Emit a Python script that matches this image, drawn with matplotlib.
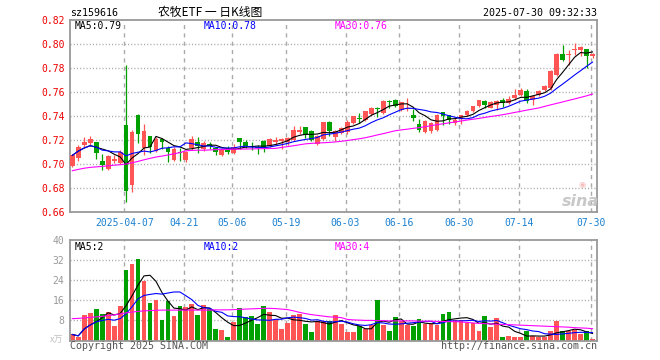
import numpy as np
import pandas as pd
import matplotlib
matplotlib.use('Agg')
import matplotlib.pyplot as plt

# daily K data, 2025-03-24 .. 2025-07-30
opens = [0.6986, 0.7047, 0.7156, 0.7172, 0.7186, 0.7028, 0.6956, 0.7028, 0.7008, 0.7328,
         0.6822, 0.7411, 0.7133, 0.7231, 0.7106, 0.7208, 0.7134, 0.7036, 0.7101, 0.7030,
         0.7134, 0.7184, 0.7121, 0.7170, 0.7134, 0.7071, 0.7120, 0.7088, 0.7216, 0.7186,
         0.7153, 0.7142, 0.7194, 0.7153, 0.7180, 0.7189, 0.7180, 0.7203, 0.7269, 0.7306,
         0.7272, 0.7169, 0.7208, 0.7347, 0.7222, 0.7261, 0.7264, 0.7342, 0.7383, 0.7364,
         0.7420, 0.7470, 0.7425, 0.7525, 0.7531, 0.7447, 0.7458, 0.7411, 0.7333, 0.7269,
         0.7275, 0.7286, 0.7436, 0.7406, 0.7342, 0.7375, 0.7411, 0.7439, 0.7480, 0.7528,
         0.7470, 0.7494, 0.7536, 0.7508, 0.7550, 0.7572, 0.7606, 0.7536, 0.7572, 0.7619,
         0.7633, 0.7744, 0.7919, 0.7911, 0.7947, 0.7953, 0.7961, 0.7903]
highs = [0.7083, 0.7156, 0.7225, 0.7233, 0.7186, 0.7086, 0.7078, 0.7075, 0.7120, 0.7822,
         0.7286, 0.7419, 0.7336, 0.7236, 0.7222, 0.7216, 0.7148, 0.7140, 0.7134, 0.7107,
         0.7230, 0.7222, 0.7192, 0.7181, 0.7134, 0.7126, 0.7148, 0.7167, 0.7216, 0.7197,
         0.7180, 0.7161, 0.7203, 0.7217, 0.7225, 0.7214, 0.7225, 0.7314, 0.7319, 0.7306,
         0.7281, 0.7244, 0.7353, 0.7358, 0.7281, 0.7311, 0.7364, 0.7400, 0.7425, 0.7445,
         0.7478, 0.7475, 0.7530, 0.7530, 0.7544, 0.7519, 0.7550, 0.7461, 0.7375, 0.7369,
         0.7353, 0.7420, 0.7436, 0.7410, 0.7383, 0.7411, 0.7453, 0.7486, 0.7536, 0.7536,
         0.7525, 0.7536, 0.7550, 0.7569, 0.7625, 0.7633, 0.7628, 0.7578, 0.7619, 0.7661,
         0.7786, 0.7928, 0.7994, 0.7953, 0.8008, 0.7986, 0.7961, 0.7925]
lows = [0.6975, 0.7022, 0.7139, 0.7153, 0.7044, 0.6947, 0.6947, 0.7011, 0.7003, 0.6683,
        0.6767, 0.7175, 0.7072, 0.7092, 0.7097, 0.7121, 0.7016, 0.7025, 0.7025, 0.7019,
        0.7120, 0.7093, 0.7107, 0.7121, 0.7071, 0.7066, 0.7080, 0.7080, 0.7126, 0.7134,
        0.7114, 0.7086, 0.7097, 0.7142, 0.7169, 0.7125, 0.7161, 0.7189, 0.7253, 0.7217,
        0.7189, 0.7161, 0.7203, 0.7230, 0.7189, 0.7250, 0.7253, 0.7336, 0.7342, 0.7356,
        0.7411, 0.7395, 0.7419, 0.7470, 0.7478, 0.7439, 0.7444, 0.7356, 0.7267, 0.7258,
        0.7258, 0.7278, 0.7328, 0.7333, 0.7328, 0.7333, 0.7403, 0.7431, 0.7472, 0.7467,
        0.7465, 0.7453, 0.7478, 0.7503, 0.7533, 0.7564, 0.7508, 0.7489, 0.7567, 0.7606,
        0.7619, 0.7736, 0.7856, 0.7828, 0.7911, 0.7897, 0.7800, 0.7881]
closes = [0.7072, 0.7142, 0.7186, 0.7211, 0.7092, 0.6992, 0.7069, 0.7044, 0.7100, 0.6772,
          0.7269, 0.7247, 0.7278, 0.7144, 0.7211, 0.7181, 0.7101, 0.7129, 0.7093, 0.7104,
          0.7211, 0.7148, 0.7175, 0.7148, 0.7099, 0.7120, 0.7104, 0.7140, 0.7186, 0.7153,
          0.7139, 0.7131, 0.7133, 0.7211, 0.7197, 0.7208, 0.7219, 0.7281, 0.7286, 0.7244,
          0.7203, 0.7236, 0.7347, 0.7272, 0.7272, 0.7297, 0.7347, 0.7397, 0.7375, 0.7439,
          0.7470, 0.7460, 0.7522, 0.7520, 0.7486, 0.7514, 0.7467, 0.7383, 0.7286, 0.7361,
          0.7342, 0.7411, 0.7397, 0.7369, 0.7369, 0.7406, 0.7444, 0.7480, 0.7530, 0.7489,
          0.7519, 0.7528, 0.7508, 0.7544, 0.7578, 0.7619, 0.7528, 0.7570, 0.7606, 0.7647,
          0.7778, 0.7919, 0.7869, 0.7919, 0.7961, 0.7975, 0.7897, 0.7919]
# volume in 万
volumes = [2.4, 1.3, 10.1, 10.9, 12.5, 10.5, 11.3, 5.6, 13.7, 28.2,
           30.3, 32.6, 23.8, 14.9, 16.1, 8.1, 15.7, 9.7, 13.7, 13.3,
           14.5, 10.1, 14.1, 12.5, 4.4, 4.2, 1.2, 7.2, 12.9, 9.3,
           9.7, 6.4, 13.7, 11.3, 8.5, 4.4, 6.8, 10.1, 10.5, 6.4,
           3.2, 7.7, 7.7, 7.8, 10.1, 6.4, 3.4, 3.4, 5.8, 4.4,
           6.3, 16.1, 6.0, 3.6, 9.3, 7.8, 6.0, 5.6, 8.5, 6.6,
           6.7, 6.3, 10.5, 11.3, 8.3, 8.3, 7.0, 7.0, 3.6, 9.7,
           5.2, 8.9, 1.2, 1.6, 1.2, 1.2, 3.6, 1.6, 1.2, 1.2,
           3.6, 7.7, 3.6, 3.6, 4.0, 2.4, 3.6, 0.4]
# MA30 (needs history before the window)
ma30_price = [0.6944, 0.6955, 0.6965, 0.6972, 0.6976, 0.6980, 0.6985, 0.6990, 0.6994, 0.7000,
              0.7010, 0.7022, 0.7035, 0.7047, 0.7058, 0.7066, 0.7075, 0.7085, 0.7095, 0.7110,
              0.7113, 0.7115, 0.7115, 0.7117, 0.7120, 0.7121, 0.7122, 0.7123, 0.7124, 0.7125,
              0.7126, 0.7127, 0.7128, 0.7129, 0.7130, 0.7138, 0.7145, 0.7152, 0.7160, 0.7168,
              0.7172, 0.7175, 0.7177, 0.7180, 0.7184, 0.7189, 0.7196, 0.7203, 0.7210, 0.7219,
              0.7230, 0.7242, 0.7253, 0.7265, 0.7277, 0.7284, 0.7290, 0.7297, 0.7303, 0.7311,
              0.7319, 0.7328, 0.7335, 0.7343, 0.7350, 0.7358, 0.7366, 0.7373, 0.7380, 0.7388,
              0.7396, 0.7403, 0.7411, 0.7420, 0.7430, 0.7439, 0.7449, 0.7458, 0.7467, 0.7480,
              0.7493, 0.7505, 0.7517, 0.7530, 0.7542, 0.7555, 0.7568, 0.7583]
ma30_vol = [8.7, 8.8, 9.0, 9.2, 9.4, 9.6, 9.9, 10.2, 10.6, 11.0,
            11.3, 11.6, 11.8, 11.9, 12.0, 12.1, 12.1, 12.1, 12.1, 12.1,
            12.1, 12.1, 12.1, 12.1, 12.2, 12.2, 12.2, 12.3, 12.4, 12.5,
            12.6, 12.7, 12.8, 12.8, 12.7, 12.5, 12.3, 11.8, 11.2, 10.7,
            10.3, 10.0, 9.7, 9.4, 9.3, 9.1, 8.4, 8.2, 8.1, 8.0,
            8.0, 7.9, 7.9, 7.8, 7.8, 7.8, 7.8, 7.8, 7.7, 7.7,
            7.7, 7.6, 7.6, 7.5, 7.5, 7.4, 7.2, 7.0, 6.8, 6.7,
            6.6, 6.5, 6.4, 6.3, 6.2, 6.1, 6.0, 5.9, 5.8, 5.7,
            5.6, 5.5, 5.4, 5.3, 5.1, 5.0, 4.9, 4.7]

tick_idx = [9, 19, 27, 36, 46, 55, 65, 75, 87]
tick_lbl = ['2025-04-07', '04-21', '05-06', '05-19', '06-03', '06-16', '06-30', '07-14', '07-30']

RED = '#ff5555'
GREEN = '#00a000'
GRID = '#aaaaaa'
MONO = 'DejaVu Sans Mono'
CJK = ['Noto Sans CJK SC', 'DejaVu Sans']

o = np.array(opens); h = np.array(highs); l = np.array(lows); c = np.array(closes)
v = np.array(volumes)
x = np.arange(len(c))
cols = np.where(c >= o, RED, GREEN)

ma5 = pd.Series(c).rolling(5, min_periods=1).mean()
ma10 = pd.Series(c).rolling(10, min_periods=1).mean()
vma5 = pd.Series(v).rolling(5, min_periods=1).mean()
vma10 = pd.Series(v).rolling(10, min_periods=1).mean()

W, H = 660, 360
fig = plt.figure(figsize=(6.6, 3.6), dpi=100)
ax1 = fig.add_axes([70/W, 1-212/H, 527/W, 192/H])
ax2 = fig.add_axes([70/W, 1-340.5/H, 527/W, 100.5/H])

def px(xp, yp):
    return xp / W, 1 - yp / H

for ax in (ax1, ax2):
    ax.set_xlim(-0.38, 87.75)
    for s in ax.spines.values():
        s.set_color('#999999')
        s.set_linewidth(1.3)
    for t in tick_idx:
        ax.axvline(t - 0.3, color=GRID, lw=1.0, ls=(0, (3, 3)), zorder=0)
    ax.tick_params(length=0)

# price panel
ax1.set_ylim(0.66, 0.82)
yt = np.arange(0.66, 0.8201, 0.02)
ax1.set_yticks(yt)
ax1.set_yticklabels(['%.2f' % t for t in yt], color='#ee0000', fontsize=7, family=MONO)
ax1.tick_params(axis='y', pad=4)
for t in yt[1:-1]:
    ax1.axhline(t, color=GRID, lw=1.0, ls=(0, (0.8, 1.5)), zorder=0)
ax1.set_xticks([t - 0.3 for t in tick_idx])
ax1.set_xticklabels(tick_lbl, color='#1a80d0', fontsize=7, family=MONO)
ax1.tick_params(axis='x', pad=4)

ax1.vlines(x, l, h, colors=cols, lw=0.9, zorder=2)
body = np.maximum(np.abs(c - o), 0.0003)
ax1.bar(x, body, bottom=np.minimum(o, c), width=0.8, color=cols, lw=0, zorder=3)
ax1.plot(x, ma5, color='black', lw=0.8, zorder=4)
ax1.plot(x, ma10, color='#0000ff', lw=0.8, zorder=4)
ax1.plot(x, ma30_price, color='#ff00ff', lw=0.8, zorder=4)

# volume panel
ax2.set_ylim(0, 40)
ax2.set_yticks([8, 16, 24, 32, 40])
ax2.set_yticklabels(['8', '16', '24', '32', '40'], color='#999999', fontsize=7, family=MONO)
ax2.tick_params(axis='y', pad=4)
ax2.set_xticks([])
for t in [8, 16, 24, 32]:
    ax2.axhline(t, color=GRID, lw=1.0, ls=(0, (0.8, 1.5)), zorder=0)
ax2.bar(x, v, width=0.8, color=cols, lw=0, zorder=2)
ax2.plot(x, vma5, color='black', lw=0.8, zorder=4)
ax2.plot(x, vma10, color='#0000ff', lw=0.8, zorder=4)
ax2.plot(x, ma30_vol, color='#ff00ff', lw=0.8, zorder=4)

# MA legends
fig.text(*px(75, 26), 'MA5:0.79', color='black', fontsize=7, family=MONO, va='center')
fig.text(*px(204, 26), 'MA10:0.78', color='#0000ff', fontsize=7, family=MONO, va='center')
fig.text(*px(335, 26), 'MA30:0.76', color='#ff00ff', fontsize=7, family=MONO, va='center')
fig.text(*px(75, 246.5), 'MA5:2', color='black', fontsize=7, family=MONO, va='center')
fig.text(*px(204, 246.5), 'MA10:2', color='#0000ff', fontsize=7, family=MONO, va='center')
fig.text(*px(335, 246.5), 'MA30:4', color='#ff00ff', fontsize=7, family=MONO, va='center')

# header / footer
fig.text(*px(70, 13.5), 'sz159616', fontsize=7.2, family=MONO, va='center')
fig.text(*px(210, 12.5), '农牧ETF 一 日K线图', fontsize=8.5, family=CJK, va='center', ha='center')
fig.text(*px(597, 13.5), '2025-07-30 09:32:33', fontsize=7.2, family=MONO, va='center', ha='right')
fig.text(*px(70, 346), 'Copyright 2025 SINA.COM', color='#555555', fontsize=7.2, family=MONO, va='center')
fig.text(*px(597, 346), 'http://finance.sina.com.cn', color='#555555', fontsize=7.2, family=MONO,
         va='center', ha='right')
fig.text(*px(57, 340), 'x万', color='#c0c0c0', fontsize=6.5, family=CJK, va='center', ha='center')

# sina watermark
fig.text(*px(580, 201), 'sina', color='#c8c8c8', fontsize=11.5, style='italic', weight='bold',
         va='center', ha='center')
fig.text(*px(582, 185), '◉', color='#f4b0b0', fontsize=6, va='center', ha='center', alpha=0.8)

fig.savefig('out.png', dpi=100)
